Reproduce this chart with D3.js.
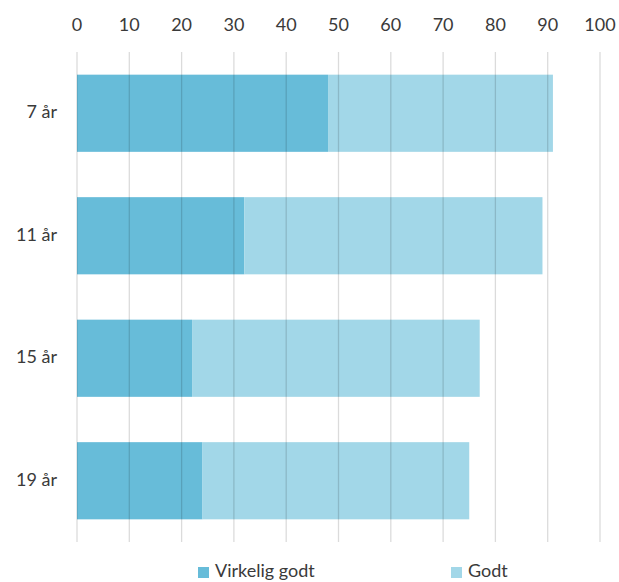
<!DOCTYPE html>
<html lang="no">
<head>
    <meta charset="utf-8">
    <script src="https://d3js.org/d3.v7.min.js"></script>
    <style>
        body { margin: 0; background: #fff; }
        text { font-family: Lato, "Open Sans", sans-serif; fill: #3a3a3a; }
    </style>
</head>
<body>
<svg width="619" height="582"></svg>
<script>
    // data
    var categories = ["7 år", "11 år", "15 år", "19 år"];
    var virkeligGodt = [48, 32, 22, 24];
    var godt = [43, 57, 55, 51];
    var xTicks = [0, 10, 20, 30, 40, 50, 60, 70, 80, 90, 100];
    var seriesNames = ["Virkelig godt", "Godt"];
    var colors = ["#67bcd9", "#a2d7e8"];

    var svg = d3.select("svg");

    var x = d3.scaleLinear().domain([0, 100]).range([77, 600]);
    var y = d3.scaleBand().domain(categories).range([52, 542])
        .paddingInner(0.37).paddingOuter(0.185);

    // top axis labels
    svg.append("g")
        .selectAll("text")
        .data(xTicks)
        .enter()
        .append("text")
        .attr("x", function (d) { return x(d); })
        .attr("y", 31)
        .attr("text-anchor", "middle")
        .style("font-size", "18px")
        .text(function (d) { return d; });

    // stacked bars
    var rows = categories.map(function (c, i) {
        return { cat: c, a: virkeligGodt[i], b: godt[i] };
    });

    var bars = svg.append("g");
    bars.selectAll("rect.a")
        .data(rows)
        .enter()
        .append("rect")
        .attr("class", "a")
        .attr("x", x(0))
        .attr("y", function (d) { return y(d.cat); })
        .attr("width", function (d) { return x(d.a) - x(0); })
        .attr("height", y.bandwidth())
        .style("fill", colors[0]);

    bars.selectAll("rect.b")
        .data(rows)
        .enter()
        .append("rect")
        .attr("class", "b")
        .attr("x", function (d) { return x(d.a); })
        .attr("y", function (d) { return y(d.cat); })
        .attr("width", function (d) { return x(d.a + d.b) - x(d.a); })
        .attr("height", y.bandwidth())
        .style("fill", colors[1]);

    // gridlines (show faintly through the bars)
    svg.append("g")
        .selectAll("line")
        .data(xTicks)
        .enter()
        .append("line")
        .attr("x1", function (d) { return x(d); })
        .attr("x2", function (d) { return x(d); })
        .attr("y1", 52)
        .attr("y2", 542)
        .style("stroke", "#000")
        .style("stroke-opacity", 0.14)
        .style("stroke-width", 1.3);

    // category labels
    svg.append("g")
        .selectAll("text")
        .data(categories)
        .enter()
        .append("text")
        .attr("x", 57)
        .attr("y", function (d) { return y(d) + y.bandwidth() / 2 + 5; })
        .attr("text-anchor", "end")
        .style("font-size", "18px")
        .text(function (d) { return d; });

    // legend
    var legendX = [198, 451];
    var legend = svg.append("g")
        .selectAll("g")
        .data(seriesNames)
        .enter()
        .append("g")
        .attr("transform", function (d, i) { return "translate(" + legendX[i] + ",0)"; });

    legend.append("rect")
        .attr("x", 0)
        .attr("y", 567)
        .attr("width", 11)
        .attr("height", 11)
        .style("fill", function (d, i) { return colors[i]; });

    legend.append("text")
        .attr("x", 17)
        .attr("y", 577)
        .style("font-size", "18px")
        .text(function (d) { return d; });
</script>
</body>
</html>
